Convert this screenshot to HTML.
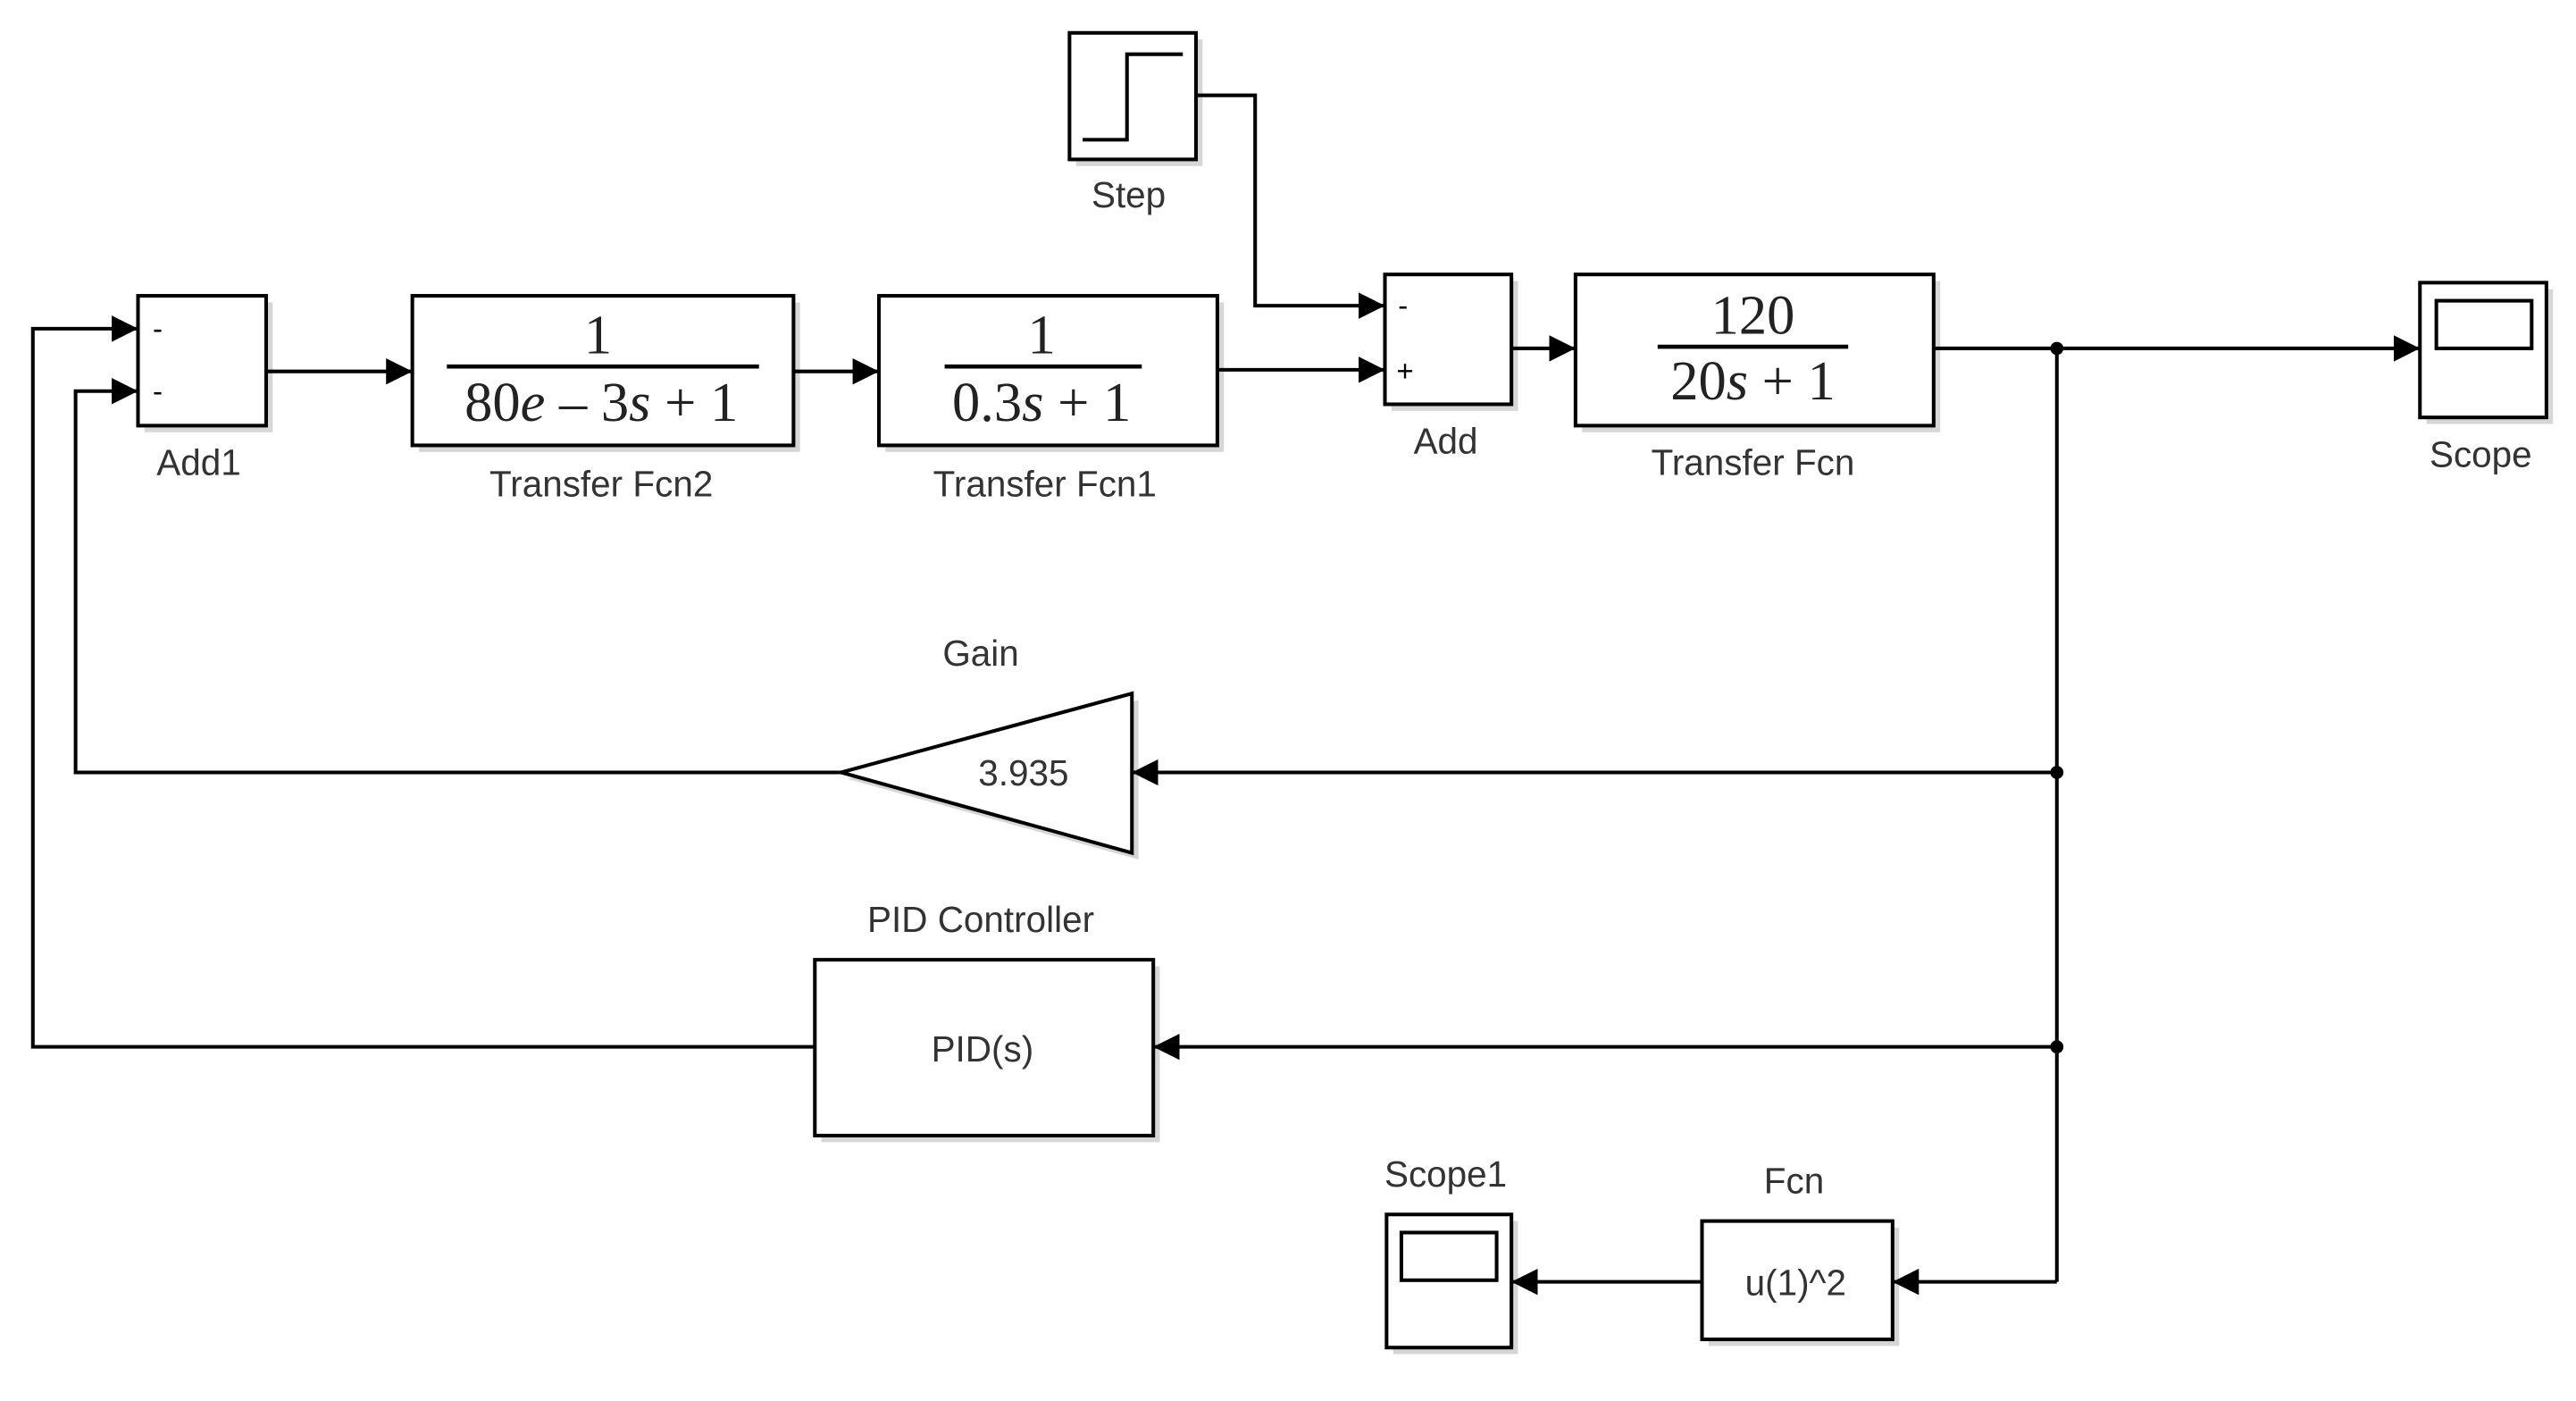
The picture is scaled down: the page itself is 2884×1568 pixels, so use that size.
<!DOCTYPE html>
<html><head><meta charset="utf-8"><style>html,body{margin:0;padding:0;background:#fff;}svg{display:block}</style></head>
<body>
<svg width="2884" height="1568" viewBox="0 0 1568 852.5" preserveAspectRatio="none" xmlns="http://www.w3.org/2000/svg">
<defs>
<marker id="a" viewBox="0 0 10 10" refX="10" refY="5" markerWidth="16" markerHeight="18" markerUnits="userSpaceOnUse" orient="auto"><path d="M0,0 L10,5 L0,10 z" fill="#000"/></marker>
</defs>
<rect width="1568" height="852.5" fill="#fff"/>
<g fill="#bbb" opacity="0.6">
<rect x="655" y="24" width="77" height="77"/>
<rect x="847" y="171" width="77" height="79"/>
<rect x="963" y="171" width="218" height="92"/>
<rect x="1477" y="176" width="77" height="82"/>
<rect x="88" y="184" width="78" height="79"/>
<rect x="255" y="184" width="232" height="91"/>
<rect x="539" y="184" width="206" height="91"/>
<rect x="500" y="588" width="206" height="107"/>
<rect x="1040" y="747" width="116" height="72"/>
<rect x="848" y="743" width="76" height="81"/>
<polygon points="516,474 693,426 693,523"/>
</g>
<g fill="#fff" stroke="#000" stroke-width="2.2">
<rect x="651" y="20" width="77" height="77"/>
<rect x="843" y="167" width="77" height="79"/>
<rect x="959" y="167" width="218" height="92"/>
<rect x="1473" y="172" width="77" height="82"/>
<rect x="84" y="180" width="78" height="79"/>
<rect x="251" y="180" width="232" height="91"/>
<rect x="535" y="180" width="206" height="91"/>
<rect x="496" y="584" width="206" height="107"/>
<rect x="1036" y="743" width="116" height="72"/>
<rect x="844" y="739" width="76" height="81"/>
<polygon points="512,470 689,422 689,519"/>
<rect x="1483" y="183" width="58" height="29"/>
<rect x="853" y="750" width="58" height="29"/>
</g>
<path d="M659,85 H686 V33 H720" fill="none" stroke="#000" stroke-width="2.2"/>
<g fill="none" stroke="#000" stroke-width="2.2">
<path d="M728,58 H764 V186 H843" marker-end="url(#a)"/>
<path d="M741,225 H843" marker-end="url(#a)"/>
<path d="M920,212 H959" marker-end="url(#a)"/>
<path d="M1177,212 H1473" marker-end="url(#a)"/>
<path d="M1252,212 V780"/>
<path d="M1252,470 H689" marker-end="url(#a)"/>
<path d="M1252,637 H702" marker-end="url(#a)"/>
<path d="M1252,780 H1152" marker-end="url(#a)"/>
<path d="M1036,780 H920" marker-end="url(#a)"/>
<path d="M512,470 H46 V238 H84" marker-end="url(#a)"/>
<path d="M496,637 H20 V200 H84" marker-end="url(#a)"/>
<path d="M162,226 H251" marker-end="url(#a)"/>
<path d="M483,226 H535" marker-end="url(#a)"/>
</g>
<g fill="#000">
<circle cx="1252" cy="212" r="4"/><circle cx="1252" cy="470" r="4"/><circle cx="1252" cy="637" r="4"/>
</g>
<g stroke="#000" stroke-width="2.5">
<line x1="272" y1="223" x2="462" y2="223"/>
<line x1="575" y1="223" x2="695" y2="223"/>
<line x1="1009" y1="211" x2="1125" y2="211"/>
</g>
<g font-family="Liberation Serif, serif" font-size="34" text-anchor="middle" fill="#222">
<text x="364" y="215">1</text>
<text x="366" y="256">80<tspan font-style="italic">e</tspan> – 3<tspan font-style="italic">s</tspan> + 1</text>
<text x="634" y="215">1</text>
<text x="634" y="256">0.3<tspan font-style="italic">s</tspan> + 1</text>
<text x="1067" y="203">120</text>
<text x="1067" y="243">20<tspan font-style="italic">s</tspan> + 1</text>
</g>
<g font-family="Liberation Sans, sans-serif" font-size="22" text-anchor="middle" fill="#333">
<text x="687" y="126">Step</text>
<text x="880" y="276">Add</text>
<text x="1067" y="289">Transfer Fcn</text>
<text x="1510" y="284">Scope</text>
<text x="121" y="289">Add1</text>
<text x="366" y="302">Transfer Fcn2</text>
<text x="636" y="302">Transfer Fcn1</text>
<text x="597" y="405">Gain</text>
<text x="623" y="478">3.935</text>
<text x="597" y="567">PID Controller</text>
<text x="598" y="646">PID(s)</text>
<text x="1092" y="726">Fcn</text>
<text x="1093" y="788">u(1)^2</text>
<text x="880" y="722">Scope1</text>
</g>
<g font-family="Liberation Sans, sans-serif" font-size="18" fill="#000">
<text x="93" y="206">-</text><text x="93" y="244">-</text>
<text x="851" y="192">-</text><text x="850" y="232">+</text>
</g>
</svg>
</body></html>
